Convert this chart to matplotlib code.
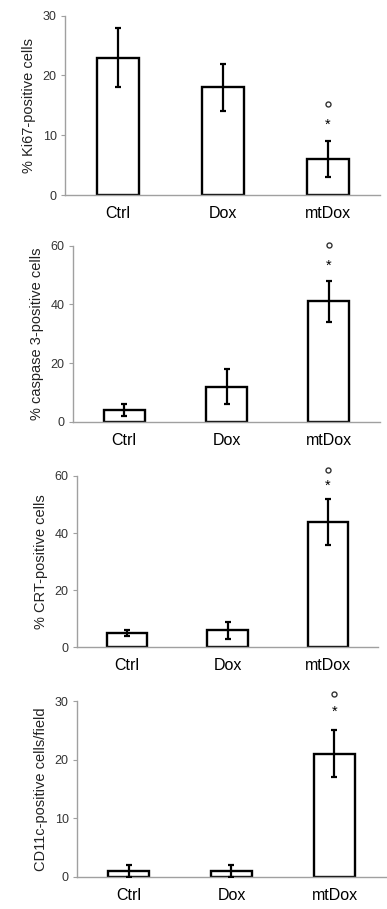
import matplotlib
matplotlib.use("Agg")
import matplotlib.pyplot as plt

plt.rcParams['font.family'] = ['Liberation Sans', 'DejaVu Sans']

categories = ["Ctrl", "Dox", "mtDox"]

ki67_values = [23, 18, 6]
ki67_err = [5, 4, 3]
casp_values = [4, 12, 41]
casp_err = [2, 6, 7]
crt_values = [5, 6, 44]
crt_err = [1, 3, 8]
cd11c_values = [1, 1, 21]
cd11c_err = [1, 1, 4]

ylabels = ["% Ki67-positive cells", "% caspase 3-positive cells",
           "% CRT-positive cells", "CD11c-positive cells/field"]
yticks_list = [[0, 10, 20, 30], [0, 20, 40, 60], [0, 20, 40, 60], [0, 10, 20, 30]]
ylims = [(0, 30), (0, 60), (0, 60), (0, 30)]
star_pos = [11.7, 53.2, 56.4, 28.1]
circ_pos = [15.2, 60.2, 62.2, 31.2]

values = [ki67_values, casp_values, crt_values, cd11c_values]
errors = [ki67_err, casp_err, crt_err, cd11c_err]

W, H = 387, 909
boxes = [  # left, right, top, bottom in pixels
    (65, 380, 15.7, 195),
    (73, 380, 245.7, 421.7),
    (77, 378, 476, 647.3),
    (77, 386, 701, 876.7),
]

fig = plt.figure(figsize=(W / 100, H / 100), dpi=100)
gray = "#a0a0a0"
for i in range(4):
    l, r, t, b = boxes[i]
    ax = fig.add_axes([l / W, 1 - b / H, (r - l) / W, (b - t) / H])
    x = list(range(len(categories)))
    ax.bar(x, values[i], width=0.4, color="white", edgecolor="black", linewidth=1.7, zorder=2)
    ax.errorbar(x, values[i], yerr=errors[i], fmt="none", ecolor="black",
                elinewidth=1.6, capsize=2.2, capthick=1.6, zorder=3)
    ax.set_xlim(-0.5, 2.5)
    ax.set_ylim(*ylims[i])
    ax.set_yticks(yticks_list[i])
    ax.set_xticks(x)
    ax.set_xticklabels(categories, fontsize=11.5)
    ax.tick_params(axis="x", length=0, pad=8)
    ax.tick_params(axis="y", length=3, color=gray, labelsize=9, pad=3, labelcolor="#333333")
    for s in ["top", "right"]:
        ax.spines[s].set_visible(False)
    for s in ["left", "bottom"]:
        ax.spines[s].set_color(gray)
        ax.spines[s].set_linewidth(1.0)
    ax.set_ylabel(ylabels[i], fontsize=10.5, color="#222222", labelpad=5)
    ax.text(2, star_pos[i], "*", ha="center", va="center", fontsize=10.5, clip_on=False)
    ax.plot([2], [circ_pos[i]], marker="o", markersize=3.6, markerfacecolor="white",
            markeredgecolor="#333333", markeredgewidth=1.0, linestyle="none", clip_on=False)

fig.savefig("out.png", dpi=100)
